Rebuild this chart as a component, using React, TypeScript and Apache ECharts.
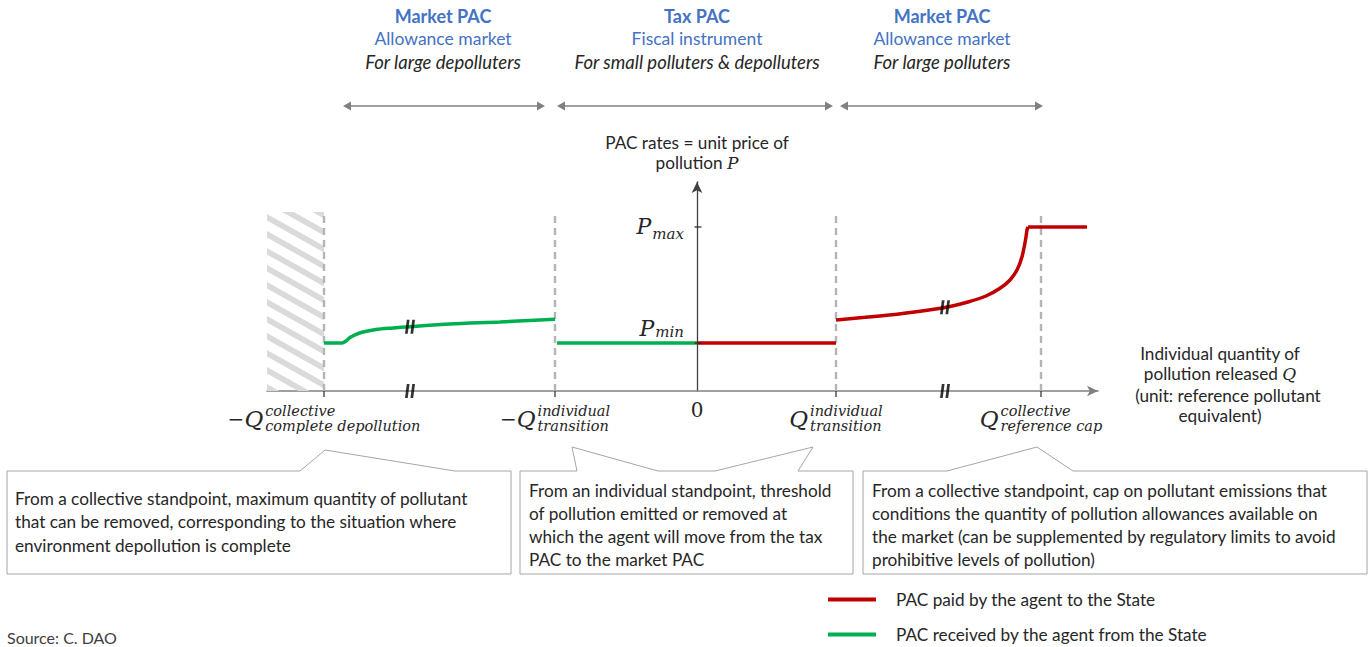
import React, { useEffect, useRef } from 'react';
import * as echarts from 'echarts';

// ---------- data (diagram units: Q horizontal, P vertical) ----------
const X_MIN = -43;
const X_MAX = 40.1;
const Y_MAX = 20.9;
const GUIDE_TOP = 17.9;
const P_MIN = 4.8;
const P_MAX = 16.4;

const Q_COLL_NEG = -37.3;
const Q_IND_NEG = -14.2;
const Q_IND_POS = 13.9;
const Q_COLL_POS = 34.4;

const greenCurveQ = [-37.3, -35.5, -35.1, -34.7, -34.2, -33.5, -32.1, -30.4, -28.7, -24.7, -19.7, -14.2];
const greenCurveP = [4.8, 4.8, 5.0, 5.35, 5.62, 5.88, 6.15, 6.3, 6.43, 6.7, 6.9, 7.17];
const greenFlatQ = [-14.0, 0];
const greenFlatP = [4.8, 4.8];
const redFlatQ = [0, 13.9];
const redFlatP = [4.8, 4.8];
const redCurveQ = [13.9, 16.8, 20.2, 23.7, 25.2, 27.1, 28.9, 30.3, 31.3, 32.0, 32.5, 32.85, 33.0, 33.1];
const redCurveP = [7.1, 7.37, 7.7, 8.17, 8.43, 8.9, 9.5, 10.27, 11.1, 12.1, 13.43, 15.1, 16.1, 16.4];
const redCapQ = [33.1, 39.0];
const redCapP = [16.4, 16.4];

const breakQ = [-28.7, 24.8];
const breakCurveP = [6.43, 8.38];

const guideQ = [Q_COLL_NEG, Q_IND_NEG, Q_IND_POS, Q_COLL_POS];
const xLabelMinus = [true, true, false, false];
const xLabelSup = ['collective', 'individual', 'individual', 'collective'];
const xLabelSub = ['complete depollution', 'transition', 'transition', 'reference cap'];
const yTickP = [P_MIN, P_MAX];
const yTickSub = ['min', 'max'];

const headerTitles = ['Market PAC', 'Tax PAC', 'Market PAC'];
const headerSubtitles = ['Allowance market', 'Fiscal instrument', 'Allowance market'];
const headerAudiences = ['For large depolluters', 'For small polluters & depolluters', 'For large polluters'];

const callout1 = [
  'From a collective standpoint, maximum quantity of pollutant',
  'that can be removed, corresponding to the situation where',
  'environment depollution is complete',
];
const callout2 = [
  'From an individual standpoint, threshold',
  'of pollution emitted or removed at',
  'which the agent will move from the tax',
  'PAC to the market PAC',
];
const callout3 = [
  'From a collective standpoint, cap on pollutant emissions that',
  'conditions the quantity of pollution allowances available on',
  'the market (can be supplemented by regulatory limits to avoid',
  'prohibitive levels of pollution)',
];

const RED_NAME = 'PAC paid by the agent to the State';
const GREEN_NAME = 'PAC received by the agent from the State';

// ---------- styles ----------
const SANS = 'Lato, "Open Sans", sans-serif';
const MATH = '"DejaVu Serif", serif';
const RED = '#c00000';
const GREEN = '#00b050';
const BLUE = '#4472c4';
const TEXT = '#262626';
const GUIDE = '#b4b4b4';
const BOX = '#a6a6a6';
const ARROW = '#808080';
const FS = 17.2;

const zip = (a: number[], b: number[]) => a.map((v, i) => [v, b[i]]);

let measureCtx: CanvasRenderingContext2D | null = null;
function measure(text: string, font: string) {
  if (!measureCtx) measureCtx = document.createElement('canvas').getContext('2d');
  measureCtx!.font = font;
  return measureCtx!.measureText(text).width;
}

function clipPoly(pts: number[][], xmin: number, ymin: number, xmax: number, ymax: number) {
  const bounds: [number, number, boolean][] = [
    [0, xmin, true], [0, xmax, false], [1, ymin, true], [1, ymax, false],
  ];
  let out = pts;
  for (const [ax, v, greater] of bounds) {
    const input = out;
    out = [];
    const inside = (p: number[]) => (greater ? p[ax] >= v : p[ax] <= v);
    for (let i = 0; i < input.length; i++) {
      const cur = input[i];
      const prev = input[(i + input.length - 1) % input.length];
      const inter = () => {
        const t = (v - prev[ax]) / (cur[ax] - prev[ax]);
        return [prev[0] + t * (cur[0] - prev[0]), prev[1] + t * (cur[1] - prev[1])];
      };
      if (inside(cur)) {
        if (!inside(prev)) out.push(inter());
        out.push(cur);
      } else if (inside(prev)) {
        out.push(inter());
      }
    }
    if (!out.length) break;
  }
  return out;
}

function renderHatch(params: any, api: any) {
  const p0 = api.coord([X_MIN, GUIDE_TOP]);
  const p1 = api.coord([Q_COLL_NEG, 0]);
  const x0 = p0[0], y0 = p0[1], x1 = p1[0], y1 = p1[1];
  const slope = 0.56, period = 17, band = 6.5;
  const w = x1 - x0;
  const children: any[] = [];
  for (let c = -w * slope - period; c < y1 - y0 + period; c += period) {
    const poly = [
      [x0, y0 + c],
      [x1, y0 + c + slope * w],
      [x1, y0 + c + slope * w + band],
      [x0, y0 + c + band],
    ];
    const cl = clipPoly(poly, x0, y0, x1, y1);
    if (cl.length >= 3) children.push({ type: 'polygon', shape: { points: cl }, style: { fill: '#dadada' } });
  }
  return { type: 'group', children };
}

function renderGuide(params: any, api: any) {
  const q = api.value(0);
  const a = api.coord([q, 0]);
  const b = api.coord([q, GUIDE_TOP]);
  return {
    type: 'line',
    shape: { x1: a[0], y1: a[1], x2: b[0], y2: b[1] },
    style: { stroke: GUIDE, lineWidth: 2.4, lineDash: [7, 5], fill: null },
  };
}

function textEl(text: string, x: number, y: number, opts: any = {}) {
  return {
    type: 'text',
    x,
    y,
    silent: true,
    style: {
      text,
      fill: TEXT,
      fontFamily: SANS,
      fontSize: FS,
      align: 'left',
      verticalAlign: 'middle',
      ...opts,
    },
  };
}

function doubleArrow(xa: number, xb: number, y: number) {
  const h = 8, hw = 4.5;
  return [
    { type: 'line', silent: true, shape: { x1: xa + 4, y1: y, x2: xb - 4, y2: y }, style: { stroke: ARROW, lineWidth: 1.5 } },
    { type: 'polygon', silent: true, shape: { points: [[xa, y], [xa + h, y - hw], [xa + h, y + hw]] }, style: { fill: ARROW } },
    { type: 'polygon', silent: true, shape: { points: [[xb, y], [xb - h, y - hw], [xb - h, y + hw]] }, style: { fill: ARROW } },
  ];
}

function callout(points: number[][], lines: string[], tx: number, ty: number, lh: number) {
  const els: any[] = [
    { type: 'polygon', silent: true, shape: { points }, style: { fill: '#fff', stroke: BOX, lineWidth: 1 } },
  ];
  lines.forEach((l, i) => els.push(textEl(l, tx, ty + i * lh)));
  return els;
}

function legendAt(name: string, top: number) {
  return {
    orient: 'horizontal',
    left: 828,
    top,
    padding: 0,
    icon: 'rect',
    itemWidth: 48,
    itemHeight: 4,
    selectedMode: false,
    data: [name],
    textStyle: { fontFamily: SANS, fontSize: FS, color: TEXT, padding: [0, 0, 0, 15] },
  };
}

export default function App() {
  const ref = useRef<HTMLDivElement>(null);
  useEffect(() => {
    if (!ref.current) return;
    const chart = echarts.init(ref.current, undefined, { renderer: 'svg' });
    const lineStyle = (color: string) => ({ color, width: 3.5 });
    const option: any = {
      animation: false,
      textStyle: { fontFamily: SANS },
      grid: { left: 267, right: 274, top: 182, bottom: 256, containLabel: false },
      xAxis: {
        type: 'value',
        min: X_MIN,
        max: X_MAX,
        axisLine: {
          show: true,
          onZero: true,
          symbol: ['none', 'arrow'],
          symbolSize: [8, 11],
          lineStyle: { color: ARROW, width: 1.5 },
        },
        axisTick: { show: false },
        axisLabel: { show: false },
        splitLine: { show: false },
      },
      yAxis: {
        type: 'value',
        min: 0,
        max: Y_MAX,
        axisLine: {
          show: true,
          onZero: true,
          symbol: ['none', 'arrow'],
          symbolSize: [8, 11],
          lineStyle: { color: '#404040', width: 1.3 },
        },
        axisTick: { show: false },
        axisLabel: { show: false },
        splitLine: { show: false },
      },
      legend: [legendAt(RED_NAME, 591), legendAt(GREEN_NAME, 626)],
      series: [
        {
          type: 'custom',
          name: 'hatch',
          coordinateSystem: 'cartesian2d',
          renderItem: renderHatch,
          data: [[X_MIN, 0]],
          silent: true,
          z: 1,
        },
        {
          type: 'custom',
          name: 'guides',
          coordinateSystem: 'cartesian2d',
          renderItem: renderGuide,
          data: guideQ.map((q) => [q, 0]),
          silent: true,
          z: 2,
        },
        {
          type: 'line', name: GREEN_NAME, data: zip(greenCurveQ, greenCurveP), smooth: 0.3,
          showSymbol: false, lineStyle: lineStyle(GREEN), itemStyle: { color: GREEN }, z: 3,
        },
        {
          type: 'line', name: GREEN_NAME, data: zip(greenFlatQ, greenFlatP), showSymbol: false,
          lineStyle: lineStyle(GREEN), itemStyle: { color: GREEN }, z: 3,
        },
        {
          type: 'line', name: RED_NAME, data: zip(redFlatQ, redFlatP), showSymbol: false,
          lineStyle: lineStyle(RED), itemStyle: { color: RED }, z: 3,
        },
        {
          type: 'line', name: RED_NAME, data: zip(redCurveQ, redCurveP), smooth: 0.3,
          showSymbol: false, lineStyle: lineStyle(RED), itemStyle: { color: RED }, z: 3,
        },
        {
          type: 'line', name: RED_NAME, data: zip(redCapQ, redCapP), showSymbol: false,
          lineStyle: lineStyle(RED), itemStyle: { color: RED }, z: 3,
        },
        {
          type: 'scatter', name: 'xticks', silent: true, z: 4,
          symbol: 'rect', symbolSize: [1.5, 6], symbolOffset: [0, 3],
          itemStyle: { color: '#262626' },
          data: guideQ.map((q) => [q, 0]),
        },
        {
          type: 'scatter', name: 'yticks', silent: true, z: 4,
          symbol: 'rect', symbolSize: [7, 1.5], symbolOffset: [1, 0],
          itemStyle: { color: '#262626' },
          data: yTickP.map((p) => [0, p]),
        },
        {
          type: 'scatter', name: 'breaks', silent: true, z: 5,
          symbol: 'path://M2,0 L5,0 L3,14 L0,14 Z M8,0 L11,0 L9,14 L6,14 Z',
          symbolSize: [10, 14],
          itemStyle: { color: '#000' },
          data: [...breakQ.map((q, i) => [q, breakCurveP[i]]), ...breakQ.map((q) => [q, 0])],
        },
      ],
    };
    chart.setOption(option);

    // ---------- annotations positioned through the chart's scales ----------
    const toPx = (q: number, p: number) => chart.convertToPixel({ gridIndex: 0 }, [q, p]) as number[];
    const origin = toPx(0, 0);
    const axisX = origin[0];
    const axisY = origin[1];
    const g: any[] = [];
    const mathRich = { m: { fontFamily: MATH, fontStyle: 'italic', fontSize: 17, fill: TEXT } };

    // headers
    const headerCx = [443, axisX, 942];
    headerTitles.forEach((t, i) => {
      g.push(textEl(t, headerCx[i], 16, { align: 'center', fill: BLUE, fontWeight: 'bold', fontSize: 18 }));
      g.push(textEl(headerSubtitles[i], headerCx[i], 38, { align: 'center', fill: BLUE, fontSize: 17.5 }));
      g.push(textEl(headerAudiences[i], headerCx[i], 62, { align: 'center', fontStyle: 'italic', fontSize: 18.5 }));
    });
    g.push(...doubleArrow(343, 545, 106), ...doubleArrow(557, 833, 106), ...doubleArrow(840, 1043, 106));

    // y-axis title
    g.push(textEl('PAC rates = unit price of', axisX, 142, { align: 'center' }));
    g.push(textEl('pollution {m|P}', axisX, 162.5, { align: 'center', rich: mathRich }));

    // x-axis title
    g.push(textEl('Individual quantity of', 1220, 353, { align: 'center' }));
    g.push(textEl('pollution released {m|Q}', 1220, 373.5, { align: 'center', rich: mathRich }));
    g.push(textEl('(unit: reference pollutant', 1228, 395, { align: 'center' }));
    g.push(textEl('equivalent)', 1220, 415.5, { align: 'center' }));

    // origin label
    g.push(textEl('0', axisX, axisY + 19, { align: 'center', fontFamily: MATH, fontSize: 20 }));

    // x-axis math labels
    const fMinus = `20px ${MATH}`;
    const fQ = `italic 23px ${MATH}`;
    const fScript = `italic 14.5px ${MATH}`;
    guideQ.forEach((q, i) => {
      const px = toPx(q, 0)[0];
      const wMinus = xLabelMinus[i] ? measure('−', fMinus) : 0;
      const wQ = measure('Q', fQ);
      const wScript = Math.max(measure(xLabelSup[i], fScript), measure(xLabelSub[i], fScript));
      const total = wMinus + wQ + 2 + wScript;
      const sx = px - total / 2;
      if (xLabelMinus[i]) g.push(textEl('−', sx, axisY + 28, { fontFamily: MATH, fontSize: 20 }));
      g.push(textEl('Q', sx + wMinus, axisY + 28, { fontFamily: MATH, fontStyle: 'italic', fontSize: 23 }));
      const scx = sx + wMinus + wQ + 2;
      g.push(textEl(xLabelSup[i], scx, axisY + 19.5, { fontFamily: MATH, fontStyle: 'italic', fontSize: 14.5 }));
      g.push(textEl(xLabelSub[i], scx, axisY + 35, { fontFamily: MATH, fontStyle: 'italic', fontSize: 14.5 }));
    });

    // y-axis math labels
    const fSubY = `italic 15px ${MATH}`;
    yTickP.forEach((p, i) => {
      const py = toPx(0, p)[1];
      const right = axisX - 13;
      const wSub = measure(yTickSub[i], fSubY);
      g.push(textEl(yTickSub[i], right, py + (i === 0 ? -11 : 7), { align: 'right', fontFamily: MATH, fontStyle: 'italic', fontSize: 15 }));
      g.push(textEl('P', right - wSub - 1, py + (i === 0 ? -15 : -1), { align: 'right', fontFamily: MATH, fontStyle: 'italic', fontSize: 22 }));
    });

    // callouts
    g.push(...callout(
      [[7, 471], [300, 471], [325, 450], [455, 471], [511, 471], [511, 574], [7, 574]],
      callout1, 15, 498, 23.5,
    ));
    g.push(...callout(
      [[520, 471], [577, 471], [572, 447], [658, 471], [715, 471], [813, 447], [798, 471], [853, 471], [853, 574], [520, 574]],
      callout2, 529, 490, 23,
    ));
    g.push(...callout(
      [[863, 471], [947, 471], [1037, 447], [1073, 471], [1367, 471], [1367, 574], [863, 574]],
      callout3, 872, 490, 23,
    ));

    // source
    g.push(textEl('Source: C. DAO', 7, 637, { fontSize: 16, fill: '#404040' }));

    chart.setOption({ graphic: { elements: g } });

    return () => chart.dispose();
  }, []);

  return (
    <div
      ref={ref}
      style={{ position: 'fixed', left: 0, top: 0, width: 1372, height: 647, background: '#fff' }}
    />
  );
}
